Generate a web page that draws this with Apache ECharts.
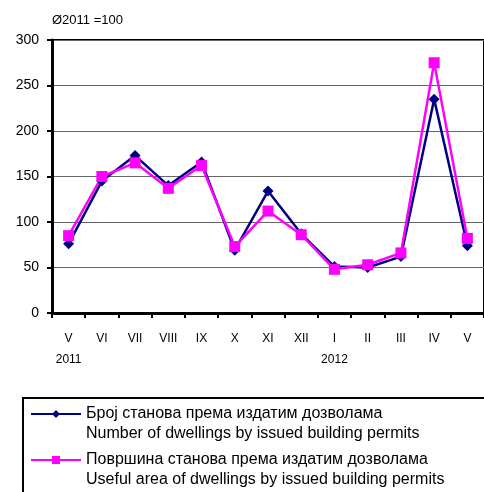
<!DOCTYPE html>
<html>
<head>
<meta charset="utf-8">
<script src="https://cdn.jsdelivr.net/npm/echarts@6/dist/echarts.min.js"></script>
<style>
  html, body { margin: 0; padding: 0; background: #fff; }
  #chart { width: 484px; height: 492px; }
</style>
</head>
<body>
<div id="chart"></div>
<script>
// months May 2011 - May 2012
var months = ['V', 'VI', 'VII', 'VIII', 'IX', 'X', 'XI', 'XII', 'I', 'II', 'III', 'IV', 'V']
var years = { 0: '2011', 8: '2012' }
var dwellings = [76, 145, 173, 140, 166, 69, 134, 87, 51, 50, 62, 235, 74]
var usefulArea = [85, 150, 165, 137, 162, 73, 112, 86, 48, 53, 66, 275, 82]
var nameDwellings = 'Број станова према издатим дозволама\nNumber of dwellings by issued building permits'
var nameArea = 'Површина станова према издатим дозволама\nUseful area of dwellings by issued building permits'

var font = 'Liberation Sans, Arial, sans-serif'
var chart = echarts.init(document.getElementById('chart'))
chart.setOption({
  animation: false,
  textStyle: { fontFamily: font },
  title: {
    text: 'Ø2011 =100',
    left: 52,
    top: 14,
    padding: 0,
    textStyle: { fontSize: 13, fontWeight: 'normal', color: '#000', fontFamily: font }
  },
  grid: {
    left: 52, right: -1, top: 40, bottom: 179,
    show: true, borderColor: '#000', borderWidth: 2
  },
  legend: {
    orient: 'vertical',
    left: 30,
    top: 384,
    padding: 0,
    itemWidth: 50,
    itemHeight: 10,
    itemGap: -14,
    data: [nameDwellings, nameArea],
    // blank first line so the icon sits next to the first text line
    formatter: function (name) { return ' \n' + name },
    textStyle: { fontSize: 16, color: '#000', lineHeight: 20, fontFamily: font }
  },
  graphic: [{
    type: 'rect',
    shape: { x: 23, y: 398, width: 470, height: 110 },
    style: { fill: 'none', stroke: '#000', lineWidth: 2 },
    silent: true
  }],
  xAxis: {
    type: 'category',
    data: months,
    boundaryGap: true,
    axisLine: { lineStyle: { color: '#000', width: 3 } },
    axisTick: { show: true, length: 5, lineStyle: { color: '#000', width: 2 } },
    axisLabel: {
      color: '#000', fontSize: 12, margin: 15, lineHeight: 21, interval: 0,
      formatter: function (v, i) { return years[i] ? v + '\n' + years[i] : v + '\n ' }
    }
  },
  yAxis: {
    type: 'value',
    min: 0, max: 300, interval: 50,
    axisLine: { show: true, lineStyle: { color: '#000', width: 3 } },
    axisTick: { show: true, length: 5, lineStyle: { color: '#000', width: 2 } },
    axisLabel: { color: '#000', fontSize: 14, margin: 13 },
    splitLine: { lineStyle: { color: '#666', width: 1 } }
  },
  series: [
    {
      name: nameDwellings,
      type: 'line',
      data: dwellings,
      symbol: 'diamond',
      symbolSize: 11,
      itemStyle: { color: '#000080' },
      lineStyle: { color: '#000080', width: 2.5 }
    },
    {
      name: nameArea,
      type: 'line',
      data: usefulArea,
      symbol: 'rect',
      symbolSize: 11,
      itemStyle: { color: '#ff00ff' },
      lineStyle: { color: '#ff00ff', width: 2.5 }
    }
  ]
})
</script>
</body>
</html>
